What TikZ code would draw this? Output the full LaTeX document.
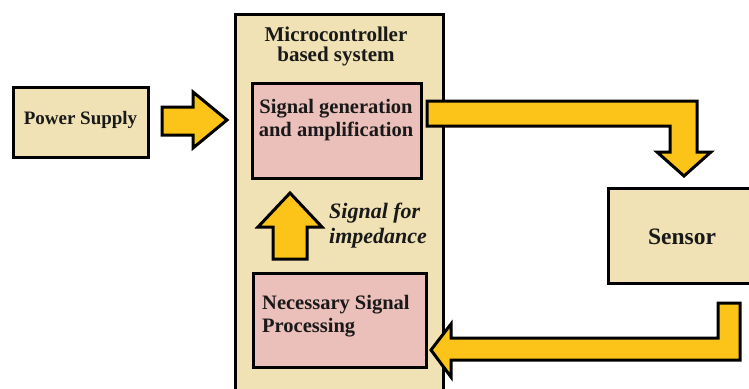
\documentclass[tikz,border=0pt]{standalone}
\usepackage{fontspec}
\setmainfont{Liberation Serif}
\definecolor{beige}{HTML}{F0E2B4}
\definecolor{pinkbox}{HTML}{EBBFBA}
\definecolor{arrowyel}{HTML}{FCC418}
\begin{document}
\begin{tikzpicture}[x=1pt,y=-1pt,
  box/.style={draw=black,line width=3pt,fill=beige},
  inbox/.style={draw=black,line width=3pt,fill=pinkbox},
  blockarrow/.style={draw=black,line width=3pt,fill=arrowyel,line join=miter},
  lbl/.style={font=\bfseries\fontsize{20.5}{23}\selectfont,text=black!90,inner sep=0pt}]
\useasboundingbox (0,0) rectangle (749,388);
\clip (0,0) rectangle (749,388);
% boxes
\draw[box] (13,87) rectangle (148,157);
\node[lbl,font=\bfseries\fontsize{19}{22}\selectfont] (ps) at (80.5,120) {Power Supply};
\draw[box] (235,14) rectangle (443,400);
\node[lbl,align=center,font=\bfseries\fontsize{21}{20}\selectfont] (mc) at (336,46) {Microcontroller\\based system};
\draw[inbox] (252,83) rectangle (421,178);
\node[lbl,align=center] (sg) at (336,120) {Signal generation\\and amplification};
\draw[inbox] (253,273) rectangle (426,367);
\node[lbl,align=left,anchor=west] (nsp) at (262,316) {Necessary Signal\\Processing};
\draw[box] (608,188) rectangle (765,283);
\node[lbl,font=\bfseries\fontsize{23.5}{26}\selectfont] (sen) at (682,237) {Sensor};
\node[lbl,align=left,anchor=west,font=\bfseries\itshape\fontsize{22}{25}\selectfont] (sfi) at (329,226) {Signal for\\impedance};
% block arrows
\draw[blockarrow] (162,107) -- (193,107) -- (193,92) -- (227,120) -- (193,148) -- (193,135) -- (162,135) -- cycle;
\draw[blockarrow] (427,101) -- (697,101) -- (697,152) -- (711,152) -- (684,176) -- (657,152) -- (670,152) -- (670,126) -- (427,126) -- cycle;
\draw[blockarrow] (718,303) -- (740,303) -- (740,360) -- (451,360) -- (451,377) -- (431,350) -- (451,324) -- (451,338) -- (718,338) -- cycle;
\draw[blockarrow] (273,259) -- (307,259) -- (307,227) -- (322,227) -- (290,193) -- (258,227) -- (273,227) -- cycle;
\end{tikzpicture}
\end{document}
